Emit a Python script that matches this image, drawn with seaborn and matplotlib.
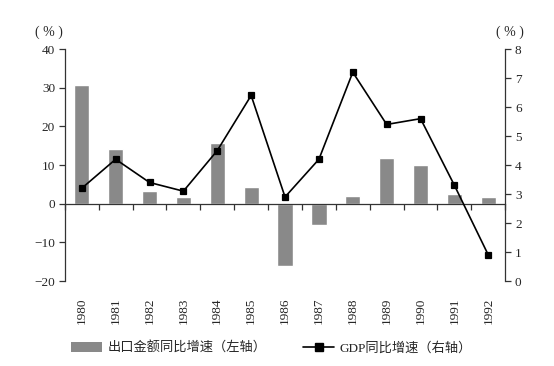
import numpy as np
import pandas as pd
import matplotlib
matplotlib.use("Agg")
import matplotlib.pyplot as plt
import seaborn as sns
from matplotlib.patches import Patch
from matplotlib.lines import Line2D

# ---- data ----
years = ["1980", "1981", "1982", "1983", "1984", "1985", "1986",
         "1987", "1988", "1989", "1990", "1991", "1992"]
export_growth = [30.7, 14.2, 3.2, 1.7, 15.6, 4.4, -16.0,
                 -5.6, 2.0, 11.8, 10.0, 2.4, 1.8]
gdp_growth = [3.2, 4.2, 3.4, 3.1, 4.5, 6.4, 2.9,
              4.2, 7.2, 5.4, 5.6, 3.3, 0.9]
left_ticks = [-20, -10, 0, 10, 20, 30, 40]
right_ticks = [0, 1, 2, 3, 4, 5, 6, 7, 8]
bar_label = "出口金额同比增速（左轴）"
line_label = "GDP同比增速（右轴）"

df = pd.DataFrame({"year": years, "export": export_growth, "gdp": gdp_growth})

sns.set_style("white")
plt.rcParams["font.family"] = ["Liberation Serif", "Noto Sans CJK SC"]
plt.rcParams["axes.unicode_minus"] = True

fig = plt.figure(figsize=(5.54, 3.66), dpi=100)
ax = fig.add_axes([0.117, 0.232, 0.795, 0.634])

bar_color = "#898989"
sns.barplot(data=df, x="year", y="export", color=bar_color, width=0.45,
            saturation=1, ax=ax)

ax2 = ax.twinx()
sns.pointplot(data=df, x="year", y="gdp", color="black", markers="s",
              markersize=5, linewidth=1.2, ax=ax2)

# ---- axes ----
ax.set_xlim(-0.5, len(years) - 0.5)
ax.set_ylim(-20, 40)
ax.set_yticks(left_ticks)
ax2.set_ylim(0, 8)
ax2.set_yticks(right_ticks)

for a in (ax, ax2):
    a.set_xlabel("")
    a.set_ylabel("")
    a.spines["top"].set_visible(False)
ax.spines["right"].set_visible(False)
ax2.spines["left"].set_visible(False)
ax2.spines["bottom"].set_visible(False)

ax.spines["bottom"].set_position(("data", 0))
for s in ("left", "bottom"):
    ax.spines[s].set_linewidth(0.9)
    ax.spines[s].set_color("#333333")
ax2.spines["right"].set_linewidth(0.9)
ax2.spines["right"].set_color("#333333")

ax.set_xticks(range(len(years)))
ax.tick_params(axis="x", which="major", length=0, labelbottom=False)
ax.set_xticks(np.arange(-0.5, len(years), 1), minor=True)
ax.tick_params(axis="x", which="minor", length=4, width=0.9,
               direction="out", color="#333333", bottom=True)

ax.tick_params(axis="y", left=True, length=4, width=0.9, direction="out",
               color="#333333", labelsize=9.5, pad=3)
ax2.tick_params(axis="y", right=True, length=4, width=0.9, direction="out",
                color="#333333", labelsize=9.5, pad=3)
ax2.tick_params(axis="x", bottom=False, labelbottom=False)

sec = ax.secondary_xaxis(0)
sec.set_xticks(range(len(years)), labels=years, rotation=90)
sec.tick_params(length=0, pad=12, labelsize=9.5)
sec.spines["bottom"].set_visible(False)

# unit labels
fig.text(0.088, 0.912, "( % )", ha="center", va="center", fontsize=10)
fig.text(0.92, 0.912, "( % )", ha="center", va="center", fontsize=10)

# ---- legend ----
handles = [Patch(facecolor=bar_color, edgecolor="none"),
           Line2D([0], [0], color="black", lw=1.2, marker="s", markersize=6)]
fig.legend(handles, [bar_label, line_label], loc="center",
           bbox_to_anchor=(0.49, 0.049), ncol=2, frameon=False,
           fontsize=9.5, handlelength=2.35, handleheight=0.75,
           columnspacing=2.8, handletextpad=0.4)

fig.savefig("out.png", dpi=100)
